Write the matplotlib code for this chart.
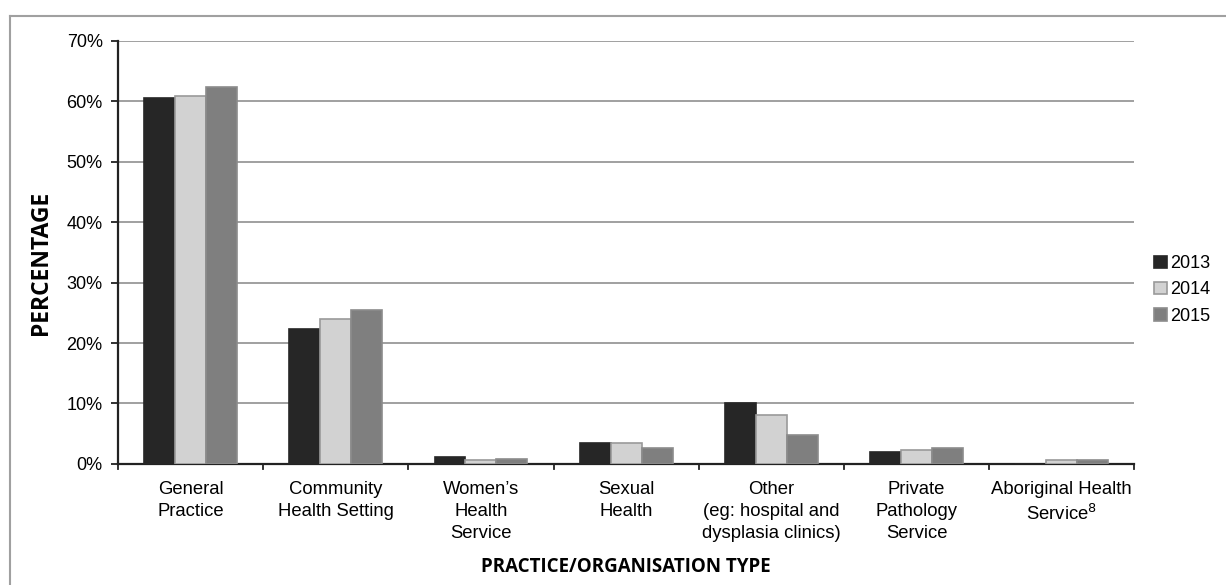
import matplotlib.pyplot as plt
import numpy as np
from matplotlib.lines import Line2D
from matplotlib.patches import Patch

# Practice / organisation types along the x axis
categories = [
    "General\nPractice",
    "Community\nHealth Setting",
    "Women\u2019s\nHealth\nService",
    "Sexual\nHealth",
    "Other\n(eg: hospital and\ndysplasia clinics)",
    "Private\nPathology\nService",
    "Aboriginal Health\nService$^{8}$",
]
years = ["2013", "2014", "2015"]

# Percentage of practices by year
pct_2013 = [60.6, 22.4, 1.2, 3.4, 10.0, 1.9, 0.0]
pct_2014 = [60.9, 24.0, 0.7, 3.4, 8.1, 2.3, 0.7]
pct_2015 = [62.3, 25.4, 0.8, 2.6, 4.8, 2.7, 0.7]

plt.rcParams["font.family"] = ["Liberation Sans", "DejaVu Sans"]

fig = plt.figure(figsize=(12.26, 5.85), dpi=100)
ax = fig.add_axes([0.0962, 0.207, 0.829, 0.723])

fills = ["#262626", "#d2d2d2", "#7f7f7f"]
edges = ["#262626", "#9a9a9a", "#8c8c8c"]
width = 0.213
x = np.arange(len(categories))
for i, (vals, fc, ec) in enumerate(zip([pct_2013, pct_2014, pct_2015], fills, edges)):
    ax.bar(x + (i - 1) * width, vals, width, color=fc, edgecolor=ec,
           linewidth=1.2, zorder=3)

ax.set_xlim(-0.5, len(categories) - 0.5)
ax.set_ylim(0, 70)
ax.set_yticks(np.arange(0, 71, 10))
ax.set_yticklabels([f"{v}%" for v in range(0, 71, 10)], fontsize=13)
ax.yaxis.grid(True, color="#999999", linewidth=1.3, zorder=0)

# category labels sit between the boundary ticks
ax.set_xticks(x)
ax.set_xticklabels(categories, fontsize=13.3, linespacing=1.4)
ax.tick_params(axis="x", length=0, pad=12)
for b in np.arange(-0.5, len(categories), 1.0):
    ax.add_line(Line2D([b, b], [0, -0.85], color="#222222", linewidth=1.3,
                       clip_on=False, transform=ax.transData))
ax.tick_params(axis="y", length=5, width=1.3, color="#222222", pad=6)

for side in ["top", "right"]:
    ax.spines[side].set_visible(False)
for side in ["left", "bottom"]:
    ax.spines[side].set_color("#222222")
    ax.spines[side].set_linewidth(1.6)

bold_family = ["Open Sans", "DejaVu Sans"]
fig.text(41 / 1226, 1 - 263 / 585, "PERCENTAGE", rotation=90, fontsize=16.5,
         fontweight="bold", family=bold_family, ha="center", va="center")
fig.text(626 / 1226, 1 - 567 / 585, "PRACTICE/ORGANISATION TYPE", fontsize=13.5,
         fontweight="bold", family=bold_family, ha="center", va="center")

handles = [Patch(facecolor=fc, edgecolor=ec, linewidth=1.2) for fc, ec in zip(fills, edges)]
fig.legend(handles, years, loc="center left",
           bbox_to_anchor=(1154 / 1226, 1 - 290 / 585),
           frameon=False, fontsize=13, handlelength=0.7, handleheight=0.7,
           handletextpad=0.2, labelspacing=0.5, borderaxespad=0, borderpad=0)

# outer frame
fig.add_artist(Line2D([10 / 1226, 10 / 1226], [0, 1 - 16 / 585], color="#a0a0a0", linewidth=1.5))
fig.add_artist(Line2D([10 / 1226, 1], [1 - 16 / 585, 1 - 16 / 585], color="#a0a0a0", linewidth=1.5))

fig.savefig("out.png", dpi=100)
